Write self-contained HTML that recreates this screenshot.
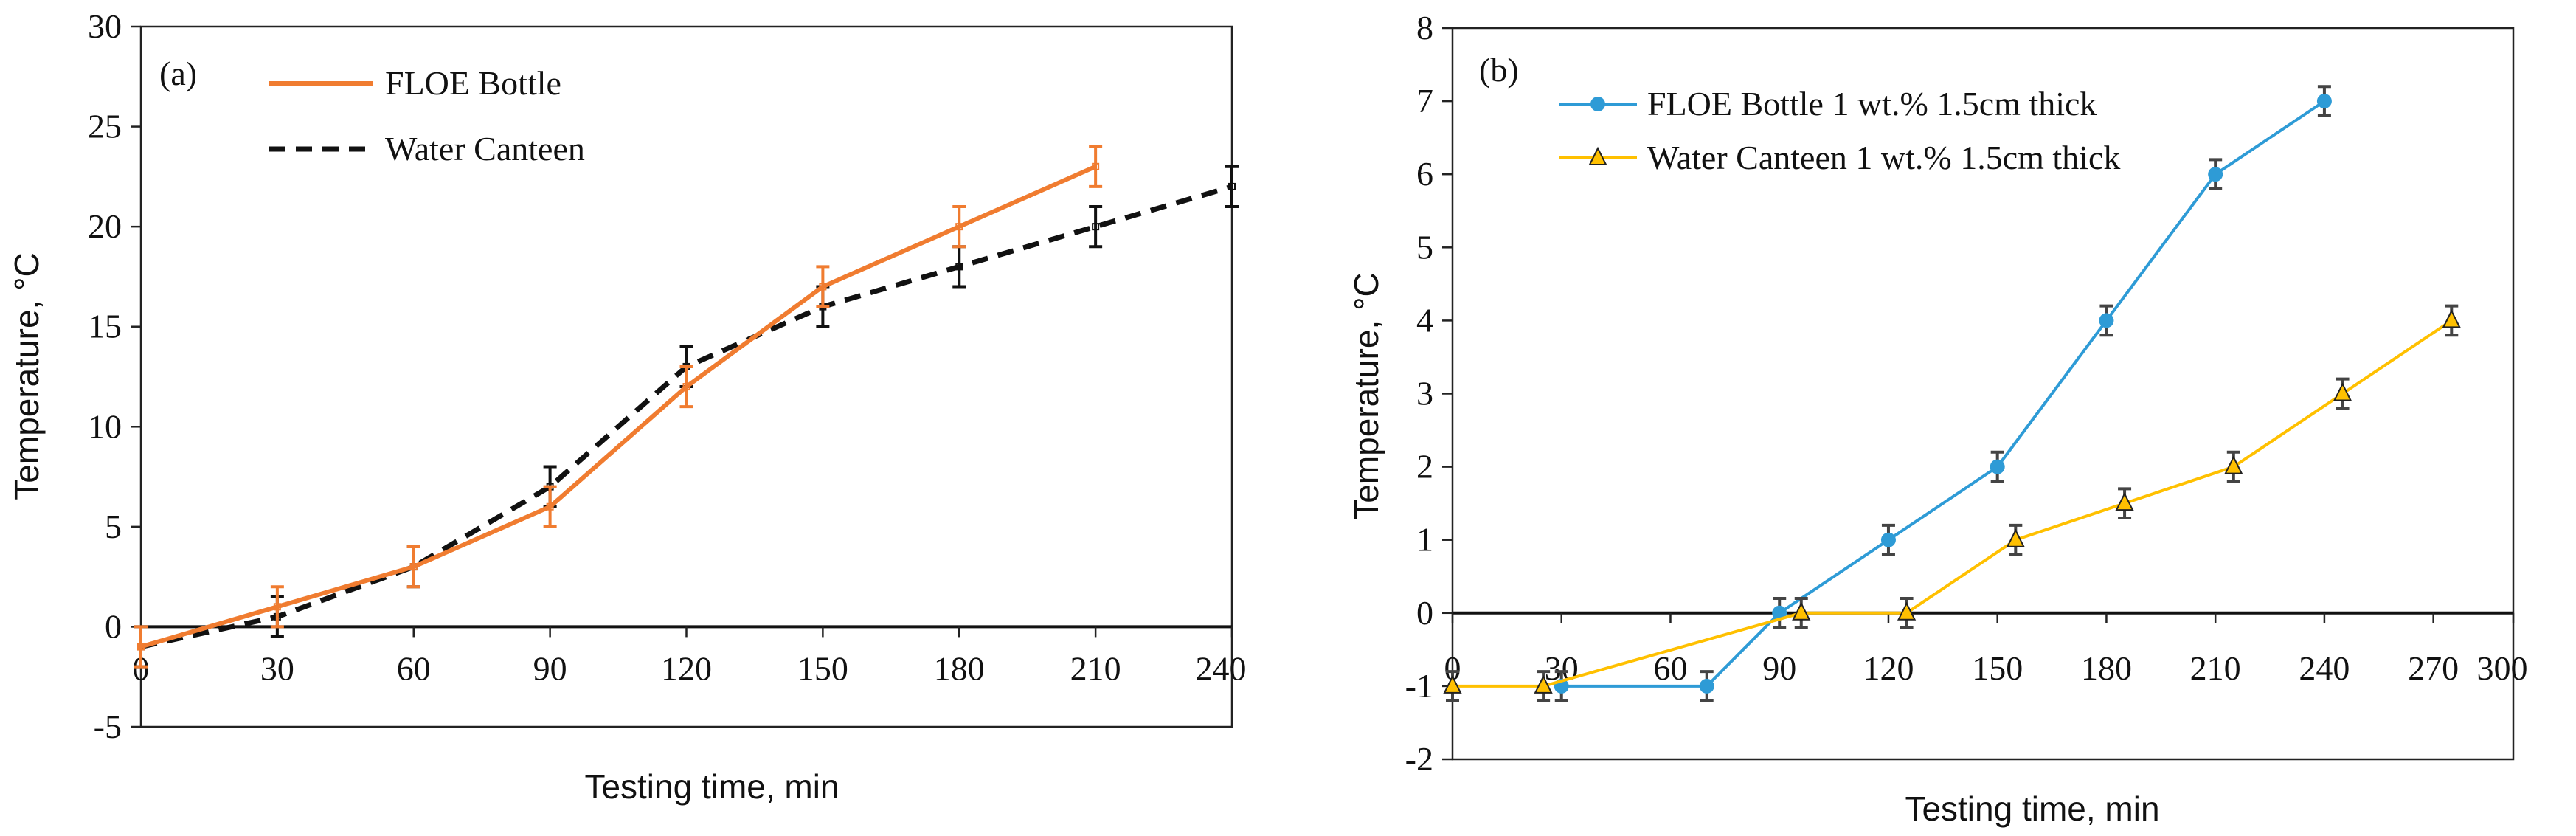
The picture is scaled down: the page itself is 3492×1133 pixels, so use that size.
<!DOCTYPE html>
<html><head><meta charset="utf-8"><style>
html,body{margin:0;padding:0;background:#fff;}
svg{display:block;}
text{font-family:"Liberation Serif",serif;fill:#111;}
.t{font-family:"Liberation Sans",sans-serif;}
</style></head><body>
<svg id="c" width="3492" height="1133" viewBox="0 0 3492 1133" xmlns="http://www.w3.org/2000/svg"></svg>
<script>
// Panel (a) data
const aX1 = [0,30,60,90,120,150,180,210];
const aFloe = [-1,1,3,6,12,17,20,23];
const aX2 = [0,30,60,90,120,150,180,210,240];
const aCanteen = [-1,0.5,3,7,13,16,18,20,22];
const aErr = 1;
const aXTicks = [0,30,60,90,120,150,180,210,240];
const aYTicks = [-5,0,5,10,15,20,25,30];
// Panel (b) data
const bX1 = [30,70,90,120,150,180,210,240];
const bFloe = [-1,-1,0,1,2,4,6,7];
const bX2 = [0,25,96,125,155,185,215,245,275];
const bCanteen = [-1,-1,0,0,1,1.5,2,3,4];
const bErr = 0.2;
const bXTicks = [0,30,60,90,120,150,180,210,240,270,300];
const bYTicks = [-2,-1,0,1,2,3,4,5,6,7,8];

const svg = document.getElementById('c');
const NS = 'http://www.w3.org/2000/svg';
function mk(tag, attrs, parent){const e=document.createElementNS(NS,tag);for(const k in attrs)e.setAttribute(k,attrs[k]);(parent||svg).appendChild(e);return e;}
function txt(s, attrs, parent){const e=mk('text',attrs,parent);e.textContent=s;return e;}

function panel(cfg){
  const g = mk('g',{});
  
  
  const sx = v => cfg.L + (v-cfg.x0)/(cfg.x1-cfg.x0)*(cfg.R-cfg.L);
  const sy = v => cfg.B - (v-cfg.y0)/(cfg.y1-cfg.y0)*(cfg.B-cfg.T);
  const frame = mk('rect',{x:cfg.L,y:cfg.T,width:cfg.R-cfg.L,height:cfg.B-cfg.T,fill:'none',stroke:'#222','stroke-width':2.5},g);
  
  
  cfg.yTicks.forEach(v=>{
    mk('line',{x1:cfg.L-14,x2:cfg.L,y1:sy(v),y2:sy(v),stroke:'#222','stroke-width':2.5},g);
    const t = txt(String(v),{x:cfg.L-26,y:sy(v)+15,'text-anchor':'end','font-size':46},g);
    
    
  });
  const za = mk('line',{x1:cfg.L,x2:cfg.R,y1:sy(0),y2:sy(0),stroke:'#111','stroke-width':4},g);
  
  
  cfg.xTicks.forEach(v=>{
    const X = Math.min(sx(v), cfg.R);
    mk('line',{x1:X,x2:X,y1:sy(0),y2:sy(0)+14,stroke:'#222','stroke-width':2.5},g);
    const t = txt(String(v),{x:Math.min(sx(v), cfg.R-15),y:sy(0)+cfg.xlo,'text-anchor':'middle','font-size':46},g);
    
    
  });
  const yt = txt('Temperature, °C',{x:cfg.ytx,y:cfg.yty,'text-anchor':'middle','font-size':46,class:'t',transform:`rotate(-90 ${cfg.ytx} ${cfg.yty})`},g);
  
  
  const xt = txt('Testing time, min',{x:cfg.xtx,y:cfg.xty,'text-anchor':'middle','font-size':46,class:'t'},g);
  
  
  const pl = txt(cfg.label,{x:cfg.lx,y:cfg.ly,'font-size':46},g);
  
  
  cfg.series.forEach(s=>{
    const sg = mk('g',{},g);
    
    
    const pts = s.x.map((x,i)=>sx(x)+','+sy(s.y[i])).join(' ');
    const ln = mk('polyline',{points:pts,fill:'none',stroke:s.color,'stroke-width':s.w,'stroke-dasharray':s.dash||'none'},sg);
    
    
    s.x.forEach((x,i)=>{
      const X=sx(x), y1=sy(s.y[i]+cfg.err), y2=sy(s.y[i]-cfg.err);
      const eb = mk('path',{d:`M${X},${y1}V${y2}M${X-9},${y1}H${X+9}M${X-9},${y2}H${X+9}`,stroke:s.ecol,'stroke-width':4,fill:'none'},sg);
      
      
      let m;
      if(s.marker==='circle') m = mk('circle',{cx:X,cy:sy(s.y[i]),r:10,fill:s.color},sg);
      else if(s.marker==='tri') m = mk('path',{d:`M${X},${sy(s.y[i])-13}L${X+11},${sy(s.y[i])+9}L${X-11},${sy(s.y[i])+9}Z`,fill:'#FFC000',stroke:'#222','stroke-width':2},sg);
      else m = mk('rect',{x:X-4,y:sy(s.y[i])-4,width:8,height:8,fill:'none',stroke:s.ecol,'stroke-width':2},sg);
      
      
    });
  });
  cfg.legend.forEach(l=>{
    const lg = mk('g',{},g);
    
    
    mk('line',{x1:l.x1,x2:l.x2,y1:l.y,y2:l.y,stroke:l.color,'stroke-width':l.w,'stroke-dasharray':l.dash||'none'},lg);
    const mx=(l.x1+l.x2)/2;
    if(l.marker==='circle') mk('circle',{cx:mx,cy:l.y,r:10,fill:l.color},lg);
    if(l.marker==='tri') mk('path',{d:`M${mx},${l.y-13}L${mx+11},${l.y+9}L${mx-11},${l.y+9}Z`,fill:'#FFC000',stroke:'#222','stroke-width':2},lg);
    txt(l.text,{x:l.tx,y:l.y+15,'font-size':46},lg);
  });
}

panel({name:'panel-a',L:191,R:1670,T:36,B:985,x0:0,x1:240,y0:-5,y1:30,
  xTicks:aXTicks,yTicks:aYTicks,err:aErr,label:'(a)',lx:216,ly:115,xlo:72,
  ytx:52,yty:510,xtx:965,xty:1082,
  series:[
    {name:'water-canteen-series',x:aX2,y:aCanteen,color:'#111',w:7,dash:'22 14',ecol:'#111',marker:'sq'},
    {name:'floe-bottle-series',x:aX1,y:aFloe,color:'#F07C30',w:6,ecol:'#F07C30',marker:'sq'}
  ],
  legend:[
    {x1:365,x2:505,y:113,color:'#F07C30',w:6,text:'FLOE Bottle',tx:522},
    {x1:365,x2:505,y:202,color:'#111',w:7,dash:'22 14',text:'Water Canteen',tx:522}
  ]});

panel({name:'panel-b',L:1969,R:3407,T:38,B:1029,x0:0,x1:292,y0:-2,y1:8,
  xTicks:bXTicks,yTicks:bYTicks,err:bErr,label:'(b)',lx:2005,ly:110,xlo:90,
  ytx:1868,yty:537,xtx:2755,xty:1112,
  series:[
    {name:'floe-bottle-1wt-series',x:bX1,y:bFloe,color:'#2E9BD6',w:4,ecol:'#444',marker:'circle'},
    {name:'water-canteen-1wt-series',x:bX2,y:bCanteen,color:'#FFC000',w:4,ecol:'#444',marker:'tri'}
  ],
  legend:[
    {x1:2113,x2:2219,y:141,color:'#2E9BD6',w:4,marker:'circle',text:'FLOE Bottle 1 wt.% 1.5cm thick',tx:2233},
    {x1:2113,x2:2219,y:214,color:'#FFC000',w:4,marker:'tri',text:'Water Canteen 1 wt.% 1.5cm thick',tx:2233}
  ]});
</script>
</body></html>
